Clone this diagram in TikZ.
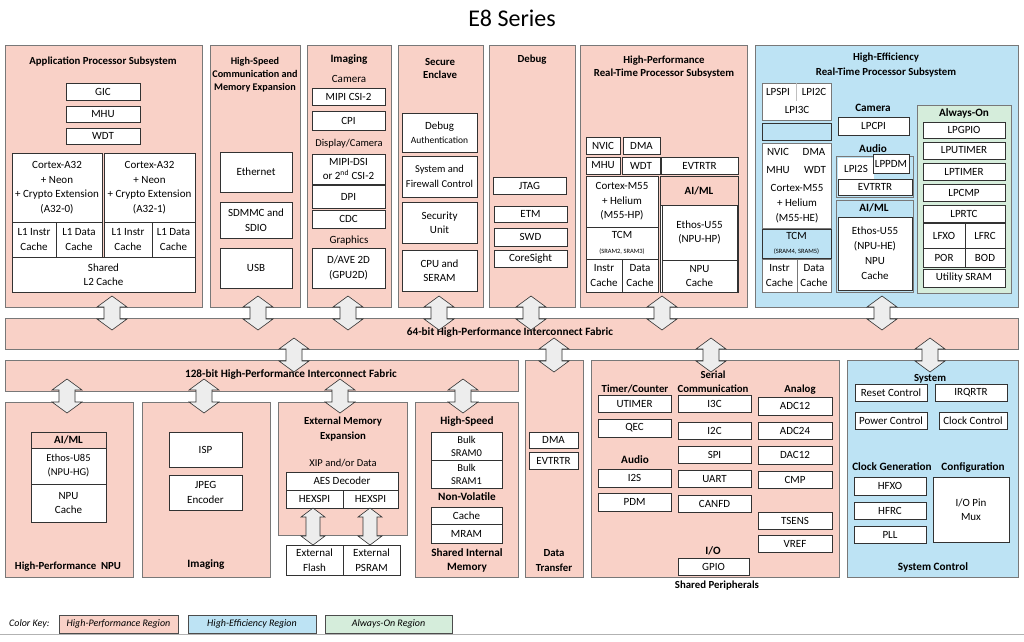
\documentclass[tikz,border=0pt]{standalone}
\usepackage{fontspec}
\setmainfont{Carlito}
\definecolor{hp}{RGB}{249,209,199}
\definecolor{he}{RGB}{189,227,244}
\definecolor{ao}{RGB}{213,237,219}
\definecolor{edge}{RGB}{120,120,120}
\definecolor{ink}{RGB}{50,50,50}
\newcommand\fsz[2]{\fontsize{#1}{#2}\selectfont}
\newcommand\bx[7][]{\node[box,#1,minimum width={(#5)-(#3)},minimum height={(#6)-(#4)}] (#2) at ({((#3)+(#5))/2},{((#4)+(#6))/2}) {#7};}
\newcommand\darr[6]{\filldraw[arrowst] ({#1-#5},{#2+#6}) -- ({#1-#4},{#2+#6}) -- (#1,#2) -- ({#1+#4},{#2+#6}) -- ({#1+#5},{#2+#6}) -- ({#1+#5},{#3-#6}) -- ({#1+#4},{#3-#6}) -- (#1,#3) -- ({#1-#4},{#3-#6}) -- ({#1-#5},{#3-#6}) -- cycle;}
\tikzset{
  box/.style={draw=ink, line width=0.6pt, fill=white, inner sep=0pt, align=center, font=\fsz{11}{14.5}, text=black},
  region/.style={draw=edge, line width=0.9pt, fill=hp},
  hd/.style={font=\bfseries\fsz{10.8}{13}, align=center, inner sep=0pt},
  lbl/.style={font=\fsz{11}{14}, align=center, inner sep=0pt},
  arrowst/.style={draw=ink, line width=0.6pt, fill=black!7},
  keybox/.style={draw=black!70, line width=1pt, font=\itshape\fsz{10}{12}},
  bhd/.style={font=\bfseries\fsz{11}{14}},
}
\begin{document}
\begin{tikzpicture}[x=1pt,y=-1pt]
\fill[white] (0,0) rectangle (1024,641);
\useasboundingbox (0,0) rectangle (1024,641);
\node[font=\fsz{24}{28}, inner sep=0pt] (title) at (512,18) {E8 Series};

% ---------- top regions
\bx[region]{app}{5}{45}{202}{307}{}
\bx[region]{hsc}{210}{45}{300}{307}{}
\bx[region]{img}{307}{45}{391}{307}{}
\bx[region]{sec}{398}{45}{483}{307}{}
\bx[region]{dbg}{489}{45}{575}{307}{}
\bx[region]{hprt}{580}{45}{747}{307}{}
\bx[region,fill=he]{hert}{755}{45}{1018}{307}{}

% fabrics
\bx[region]{fab64}{5}{318}{1018}{349}{}
\node[hd,font=\bfseries\fsz{11.2}{13}] (fab64T) at (510,333) {64-bit High-Performance Interconnect Fabric};
\bx[region]{fab128}{5}{360}{518}{391}{}
\node[hd,font=\bfseries\fsz{11.2}{13}] (fab128T) at (291,375) {128-bit High-Performance Interconnect Fabric};

% bottom regions
\bx[region]{npu}{5}{402}{133}{577}{}
\bx[region]{img2}{142}{402}{270}{577}{}
\bx[region]{ext}{278}{402}{407}{535}{}
\bx[region]{shm}{415}{402}{518}{577}{}
\bx[region]{dt}{525}{360}{583}{577}{}
\bx[region]{sp}{591}{360}{839}{577}{}
\bx[region,fill=he]{sys}{847}{360}{1018}{577}{}

% ---------- Application Processor
\node[hd] (appT) at (103,62) {Application Processor Subsystem};
\bx{gic}{66}{83}{140}{100}{GIC}
\bx{mhuA}{66}{106}{140}{122}{MHU}
\bx{wdtA}{66}{128}{140}{144}{WDT}
\bx{a0}{12}{153}{102}{222}{Cortex-A32\\+ Neon\\+ Crypto Extension\\(A32-0)}
\bx{a1}{104}{153}{195}{222}{Cortex-A32\\+ Neon\\+ Crypto Extension\\(A32-1)}
\bx{a0i}{12}{222}{56}{257}{L1 Instr\\Cache}
\bx{a0d}{56}{222}{102}{257}{L1 Data\\Cache}
\bx{a1i}{104}{222}{152}{257}{L1 Instr\\Cache}
\bx{a1d}{152}{222}{195}{257}{L1 Data\\Cache}
\bx{l2}{12}{257}{195}{292}{Shared\\L2 Cache}

% ---------- High-Speed Communication
\node[hd,font=\bfseries\fsz{10.2}{13}] (hscT) at (255,75) {High-Speed\\Communication and\\Memory Expansion};
\bx{eth}{220}{152}{292}{192}{Ethernet}
\bx{sdm}{220}{202}{292}{238}{SDMMC and\\SDIO}
\bx{usb}{220}{248}{292}{288}{USB}

% ---------- Imaging (top)
\node[hd,font=\bfseries\fsz{11.2}{13}] (imgT) at (349,60) {Imaging};
\node[lbl] (camL) at (349,79) {Camera};
\bx{csi}{312}{88}{385}{105}{MIPI CSI-2}
\bx{cpi}{312}{111}{385}{130}{CPI}
\node[lbl,font=\fsz{10.5}{13}] (dcL) at (349,144) {Display/Camera};
\bx{dsi}{312}{154}{385}{184}{MIPI-DSI\\or 2\textsuperscript{nd} CSI-2}
\bx{dpi}{312}{185}{385}{208}{DPI}
\bx{cdc}{312}{210}{385}{228}{CDC}
\node[lbl] (grL) at (349,241) {Graphics};
\bx{gpu}{312}{248}{385}{288}{D/AVE 2D\\(GPU2D)}

% ---------- Secure Enclave
\node[hd] (secT) at (440,68) {Secure\\Enclave};
\bx{dauth}{402}{113}{477}{152}{Debug\\{\fsz{9.5}{13}Authentication}}
\bx[font=\fsz{10.5}{14.5}]{sfw}{402}{156}{477}{197}{System and\\Firewall Control}
\bx{secu}{402}{202}{477}{243}{Security\\Unit}
\bx{cpus}{402}{250}{477}{291}{CPU and\\SERAM}

% ---------- Debug
\node[hd] (dbgT) at (532,60) {Debug};
\bx{jtag}{493}{177}{566}{194}{JTAG}
\bx{etm}{494}{206}{567}{222}{ETM}
\bx{swd}{494}{228}{567}{246}{SWD}
\bx{cs}{494}{250}{567}{267}{CoreSight}

% ---------- High-Performance RT
\node[hd] (hpT) at (664,67) {High-Performance\\Real-Time Processor Subsystem};
\bx{nvic}{586}{137}{620}{154}{NVIC}
\bx{dmaH}{623}{137}{660}{154}{DMA}
\bx{mhuH}{586}{157}{620}{174}{MHU}
\bx{wdtH}{622}{157}{660}{174}{WDT}
\bx{evH}{661}{157}{738}{174}{EVTRTR}
\bx{m55}{586}{176}{658}{227}{Cortex-M55\\+ Helium\\(M55-HP)}
\bx{tcmH}{586}{227}{658}{259}{TCM\\{\fsz{6.5}{9}(SRAM2, SRAM3)}}
\bx{icH}{586}{259}{622}{292}{Instr\\Cache}
\bx{dcH}{622}{259}{658}{292}{Data\\Cache}
\bx{aiH}{660}{176}{738}{292}{}
\bx[fill=hp,bhd]{aimlH}{660}{176}{738}{205}{AI/ML}
\bx{ethH}{662}{205}{737}{260}{Ethos-U55\\(NPU-HP)}
\bx{npuH}{662}{260}{737}{292}{NPU\\Cache}

% ---------- High-Efficiency RT
\node[hd,font=\bfseries\fsz{10.8}{15}] (heT) at (886,65.5) {High-Efficiency\\Real-Time Processor Subsystem};
\bx[draw=edge]{lps}{762}{83}{831}{120}{}
\draw[black!25] (lps.north) coordinate (lpsTop) -- ++(0,18) coordinate (lpsMid);
\node[lbl] (lpspi) at (778,92) {LPSPI};
\node[lbl] (lpi2c) at (814,92) {LPI2C};
\node[lbl] (lpi3c) at (797,110) {LPI3C};
\bx[fill=he]{emp}{762}{123}{831}{140}{}
\bx[draw=edge]{m55e}{762}{143}{831}{228}{}
\node[lbl] (nvicE) at (778,152) {NVIC};
\node[lbl] (dmaE) at (814,152) {DMA};
\node[lbl] (mhuE) at (778,170) {MHU};
\node[lbl] (wdtE) at (815,170) {WDT};
\node[lbl,font=\fsz{11}{15}] (cortE) at (797,204) {Cortex-M55\\+ Helium\\(M55-HE)};
\bx[fill=he]{tcmE}{762}{229}{831}{258}{TCM\\{\fsz{6.5}{9}(SRAM4, SRAM5)}}
\bx[draw=edge]{icE}{762}{259}{797}{292}{Instr\\Cache}
\bx[draw=edge]{dcE}{797}{259}{831}{292}{Data\\Cache}
\node[hd,font=\bfseries\fsz{11.2}{13}] (camT) at (873,108) {Camera};
\bx{lpcpi}{838}{117}{909}{135}{LPCPI}
\node[hd,font=\bfseries\fsz{11.2}{13}] (audT) at (873,149) {Audio};
\bx[fill=he,draw=edge]{audE}{836}{156}{913}{197}{}
\bx[draw=none]{lpi2s}{838}{158}{874}{180}{LPI2S}
\bx{lppdm}{873}{154}{909}{173}{LPPDM}
\bx{evE}{838}{179}{912}{195}{EVTRTR}
\bx[fill=he,draw=edge]{aiE}{836}{200}{913}{292}{}
\node[hd,font=\bfseries\fsz{11.2}{13}] (aimlE) at (874,207.5) {AI/ML};
\bx[font=\fsz{11}{15}]{ethE}{838}{217}{912}{290}{Ethos-U55\\(NPU-HE)\\NPU\\Cache}
\bx[fill=ao,draw=edge,line width=0.9pt]{ao}{917}{105}{1011}{293}{}
\node[hd,font=\bfseries\fsz{11.2}{13}] (aoT) at (964,113) {Always-On};
\bx{lpgpio}{923}{122}{1005}{138}{LPGPIO}
\bx{lputimer}{923}{142}{1005}{159}{LPUTIMER}
\bx{lptimer}{923}{163}{1005}{180}{LPTIMER}
\bx{lpcmp}{923}{184}{1005}{201}{LPCMP}
\bx{lprtc}{923}{205}{1005}{222}{LPRTC}
\bx{lfxo}{923}{223}{965}{248}{LFXO}
\bx{lfrc}{965}{223}{1005}{248}{LFRC}
\bx{por}{923}{248}{965}{267}{POR}
\bx{bod}{965}{248}{1005}{267}{BOD}
\bx{usram}{923}{269}{1005}{287}{Utility SRAM}

% ---------- High-Performance NPU
\bx[fill=hp,bhd]{aimlG}{31}{432}{106}{448}{AI/ML}
\bx[font=\fsz{10.5}{14}]{ethG}{31}{448}{106}{484}{Ethos-U85\\(NPU-HG)}
\bx{npuG}{31}{484}{106}{522}{NPU\\Cache}
\node[hd] (npuT) at (68,567) {High-Performance\ \ NPU};

% ---------- Imaging (bottom)
\bx{isp}{169}{432}{242}{467}{ISP}
\bx{jpeg}{169}{475}{242}{510}{JPEG\\Encoder}
\node[hd,font=\bfseries\fsz{11.2}{13}] (img2T) at (206,565) {Imaging};

% ---------- External Memory Expansion
\node[hd,font=\bfseries\fsz{10.8}{15}] (extT) at (343,429.5) {External Memory\\Expansion};
\node[lbl,font=\fsz{10.5}{13}] (xip) at (343,463) {XIP and/or Data};
\bx{aes}{286}{472}{398}{490}{AES Decoder}
\bx{hx1}{286}{490}{343}{508}{HEXSPI}
\bx{hx2}{343}{490}{398}{508}{HEXSPI}
\bx{exf}{286}{545}{343}{575}{External\\Flash}
\bx{exp}{343}{545}{400}{575}{External\\PSRAM}

% ---------- Shared Internal Memory
\node[hd,font=\bfseries\fsz{11.2}{13}] (hsT) at (467,422) {High-Speed};
\bx[font=\fsz{10.5}{13}]{bs0}{431}{432}{502}{460}{Bulk\\SRAM0}
\bx[font=\fsz{10.5}{13}]{bs1}{431}{460}{502}{488}{Bulk\\SRAM1}
\node[hd,font=\bfseries\fsz{11.2}{13}] (nvT) at (467,497) {Non-Volatile};
\bx{cache}{431}{507}{502}{524}{Cache}
\bx{mram}{431}{524}{502}{543}{MRAM}
\node[hd,font=\bfseries\fsz{11.2}{14}] (shmT) at (467,560) {Shared Internal\\Memory};

% ---------- Data Transfer
\bx{dmaD}{529}{432}{578}{448}{DMA}
\bx{evD}{529}{452}{578}{469}{EVTRTR}
\node[hd,font=\bfseries\fsz{10.8}{15}] (dtT) at (554,560.5) {Data\\Transfer};

% ---------- Shared Peripherals
\node[hd,font=\bfseries\fsz{10.8}{14}] (serT) at (713,382) {Serial\\Communication};
\node[hd] (tcT) at (635,389) {Timer/Counter};
\bx{utimer}{598}{395}{671}{412}{UTIMER}
\bx{qec}{598}{419}{671}{437}{QEC}
\node[hd,font=\bfseries\fsz{11.2}{13}] (audT2) at (635,460) {Audio};
\bx{i2s}{598}{469}{671}{487}{I2S}
\bx{pdm}{598}{493}{671}{511}{PDM}
\bx{i3c}{678}{395}{751}{412}{I3C}
\bx{i2c}{678}{422}{751}{439}{I2C}
\bx{spi}{678}{446}{751}{463}{SPI}
\bx{uart}{678}{470}{751}{487}{UART}
\bx{canfd}{678}{495}{751}{512}{CANFD}
\node[hd,font=\bfseries\fsz{11.2}{13}] (ioT) at (713,551) {I/O};
\bx{gpio}{678}{558}{749}{575}{GPIO}
\node[hd] (spT) at (717,585.5) {Shared Peripherals};
\node[hd] (anT) at (800,390) {Analog};
\bx{adc12}{758}{397}{832}{415}{ADC12}
\bx{adc24}{758}{422}{832}{439}{ADC24}
\bx{dac12}{758}{446}{832}{464}{DAC12}
\bx{cmp}{758}{471}{832}{488}{CMP}
\bx{tsens}{758}{512}{832}{529}{TSENS}
\bx{vref}{758}{535}{832}{552}{VREF}

% ---------- System Control
\node[hd] (sysT) at (930,379) {System};
\bx{rst}{855}{384}{927}{401}{Reset Control}
\bx{irq}{935}{384}{1007}{401}{IRQRTR}
\bx{pwr}{855}{412}{927}{429}{Power Control}
\bx{clk}{939}{412}{1007}{429}{Clock Control}
\node[hd,font=\bfseries\fsz{11.2}{13}] (cgT) at (892,467) {Clock Generation};
\node[hd,font=\bfseries\fsz{11.2}{13}] (cfT) at (973,467) {Configuration};
\bx{hfxo}{854}{477}{926}{495}{HFXO}
\bx{hfrc}{854}{502}{926}{519}{HFRC}
\bx{pll}{854}{526}{926}{543}{PLL}
\bx{iomux}{933}{477}{1009}{542}{I/O Pin\\Mux}
\node[hd,font=\bfseries\fsz{11.2}{13}] (scT) at (933,567) {System Control};

% ---------- block arrows
\darr{112}{296}{330}{15}{8}{11}
\darr{258}{296}{330}{15}{8}{11}
\darr{348}{296}{330}{15}{8}{11}
\darr{439}{296}{330}{15}{8}{11}
\darr{531}{296}{330}{15}{8}{11}
\darr{662}{296}{330}{15}{8}{11}
\darr{882}{296}{330}{15}{8}{11}
\darr{294}{338}{372}{15}{8}{11}
\darr{554}{338}{372}{15}{8}{11}
\darr{711}{338}{372}{15}{8}{11}
\darr{930}{338}{372}{15}{8}{11}
\darr{67}{379}{413}{15}{8}{11}
\darr{204}{379}{413}{15}{8}{11}
\darr{340}{379}{413}{15}{8}{11}
\darr{463}{379}{413}{15}{8}{11}
\darr{313}{508}{545}{12}{7}{9}
\darr{370}{508}{545}{12}{7}{9}

% ---------- colour key
\draw[black!30, line width=1.5pt] (0,634.5) -- (1024,634.5);
\node[font=\itshape\fsz{10}{12}, anchor=west, inner sep=0pt] (ckL) at (9,624) {Color Key:};
\bx[keybox,fill=hp]{k1}{59}{615}{178}{633}{High-Performance Region}
\bx[keybox,fill=he]{k2}{188}{615}{316}{633}{High-Efficiency\ Region}
\bx[keybox,fill=ao]{k3}{325}{615}{452}{633}{Always-On Region}
\end{tikzpicture}
\end{document}
